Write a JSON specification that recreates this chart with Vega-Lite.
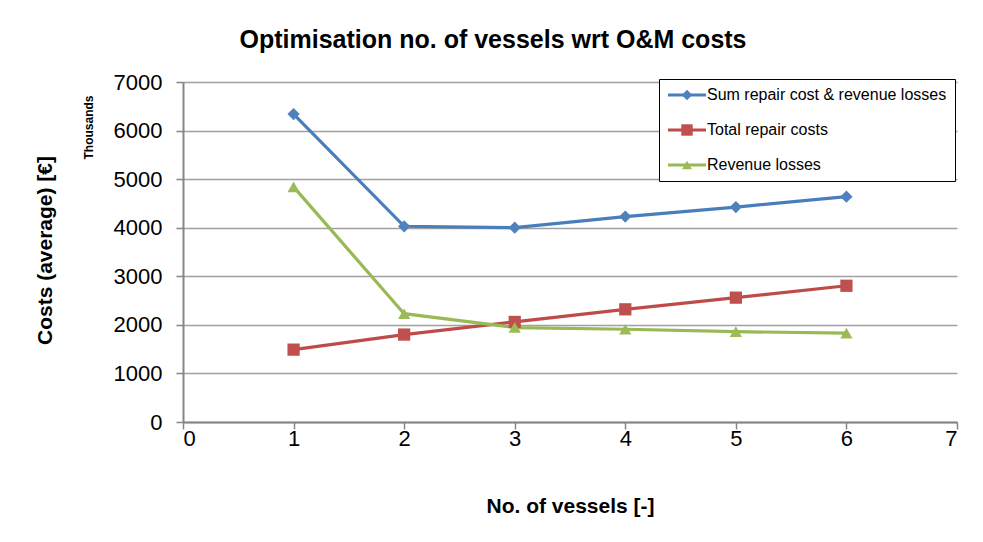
{
  "$schema": "https://vega.github.io/schema/vega-lite/v6.json",
  "width": 774,
  "height": 340,
  "autosize": {"type": "none"},
  "padding": {"left": 183, "top": 82, "right": 26, "bottom": 120},
  "background": "white",
  "config": {
    "font": "Liberation Sans",
    "view": {"stroke": null},
    "axis": {"labelFont": "Liberation Sans", "titleFont": "Liberation Sans", "labelColor": "#000000", "titleColor": "#000000"},
    "legend": {"padding": 8, "labelFontSize": 16, "labelFont": "Liberation Sans", "symbolOffset": 12, "labelOffset": 12, "rowPadding": 19, "labelLimit": 400}
  },
  "title": {
    "text": "Optimisation  no. of vessels wrt O&M costs",
    "fontSize": 25,
    "fontWeight": "bold",
    "font": "Liberation Sans",
    "color": "#000000",
    "anchor": "middle",
    "frame": "group",
    "baseline": "middle",
    "offset": 6,
    "dx": -77
  },
  "data": {
    "values": [
      {"vessels": 1, "series": "Sum repair cost & revenue losses", "cost": 6340},
      {"vessels": 2, "series": "Sum repair cost & revenue losses", "cost": 4030},
      {"vessels": 3, "series": "Sum repair cost & revenue losses", "cost": 4000},
      {"vessels": 4, "series": "Sum repair cost & revenue losses", "cost": 4230},
      {"vessels": 5, "series": "Sum repair cost & revenue losses", "cost": 4425},
      {"vessels": 6, "series": "Sum repair cost & revenue losses", "cost": 4640},
      {"vessels": 1, "series": "Total repair costs", "cost": 1490},
      {"vessels": 2, "series": "Total repair costs", "cost": 1800},
      {"vessels": 3, "series": "Total repair costs", "cost": 2060},
      {"vessels": 4, "series": "Total repair costs", "cost": 2320},
      {"vessels": 5, "series": "Total repair costs", "cost": 2560},
      {"vessels": 6, "series": "Total repair costs", "cost": 2805},
      {"vessels": 1, "series": "Revenue losses", "cost": 4840},
      {"vessels": 2, "series": "Revenue losses", "cost": 2230},
      {"vessels": 3, "series": "Revenue losses", "cost": 1945},
      {"vessels": 4, "series": "Revenue losses", "cost": 1910},
      {"vessels": 5, "series": "Revenue losses", "cost": 1860},
      {"vessels": 6, "series": "Revenue losses", "cost": 1830}
    ]
  },
  "resolve": {
    "axis": {"y": "independent"},
    "scale": {"color": "independent"},
    "legend": {"color": "independent"}
  },
  "layer": [
    {
      "mark": {"type": "line", "strokeWidth": 3.2},
      "encoding": {
        "x": {
          "field": "vessels", "type": "quantitative",
          "scale": {"domain": [0, 7], "nice": false},
          "axis": {
            "title": "No. of vessels [-]",
            "values": [0, 1, 2, 3, 4, 5, 6, 7],
            "format": "d",
            "grid": false,
            "domainColor": "#868686", "domainWidth": 2,
            "tickColor": "#868686", "tickWidth": 1.5, "tickSize": 7,
            "labelFontSize": 22, "labelPadding": -1,
            "titleFontSize": 21, "titleFontWeight": "bold",
            "titleBaseline": "middle", "titleY": 84
          }
        },
        "y": {
          "field": "cost", "type": "quantitative",
          "scale": {"domain": [0, 7000], "nice": false},
          "axis": {
            "orient": "left",
            "title": "Costs (average)  [€]",
            "values": [0, 1000, 2000, 3000, 4000, 5000, 6000, 7000],
            "format": "d",
            "grid": true, "gridColor": "#a0a0a0", "gridWidth": 1.3,
            "domainColor": "#868686", "domainWidth": 2,
            "tickColor": "#868686", "tickWidth": 1.5, "tickSize": 7,
            "labelFontSize": 22, "labelPadding": 14,
            "titleFontSize": 21, "titleFontWeight": "bold",
            "titleAngle": -90, "titleBaseline": "middle",
            "titleX": -138, "titleY": 168
          }
        },
        "color": {
          "field": "series", "type": "nominal",
          "scale": {
            "domain": ["Sum repair cost & revenue losses", "Total repair costs", "Revenue losses"],
            "range": ["#4A7EBB", "#BE4B48", "#98B954"]
          },
          "legend": {
            "title": null,
            "orient": "none",
            "legendX": 476,
            "legendY": -3,
            "strokeColor": "#000000",
            "fillColor": "#ffffff",
            "cornerRadius": 0,
            "labelColor": "#000000",
            "symbolType": "M-3.17,0H3.17",
            "symbolSize": 144,
            "symbolStrokeWidth": 3.2
          }
        }
      }
    },
    {
      "transform": [{"filter": {"field": "series", "equal": "Sum repair cost & revenue losses"}}],
      "mark": {"type": "point", "shape": "diamond", "filled": true, "opacity": 1, "size": 150},
      "encoding": {
        "x": {"field": "vessels", "type": "quantitative"},
        "y": {
          "field": "cost", "type": "quantitative",
          "axis": {
            "orient": "left",
            "title": "Thousands",
            "labels": false, "ticks": false, "domain": false, "grid": false,
            "titleFontSize": 12, "titleFontWeight": "bold",
            "titleAngle": -90, "titleBaseline": "middle",
            "titleX": -95, "titleY": 45
          }
        },
        "color": {
          "field": "series", "type": "nominal",
          "scale": {"domain": ["Sum repair cost & revenue losses"], "range": ["#4F81BD"]},
          "legend": {
            "title": null, "orient": "none", "legendX": 476, "legendY": -3,
            "labelExpr": "''", "symbolSize": 110, "symbolOpacity": 1, "symbolType": "diamond"
          }
        }
      }
    },
    {
      "transform": [{"filter": {"field": "series", "equal": "Total repair costs"}}],
      "mark": {"type": "point", "shape": "square", "filled": true, "opacity": 1, "size": 150},
      "encoding": {
        "x": {"field": "vessels", "type": "quantitative"},
        "y": {"field": "cost", "type": "quantitative", "axis": null},
        "color": {
          "field": "series", "type": "nominal",
          "scale": {"domain": ["Total repair costs"], "range": ["#C0504D"]},
          "legend": {
            "title": null, "orient": "none", "legendX": 476, "legendY": 32,
            "labelExpr": "''", "symbolSize": 130, "symbolOpacity": 1, "symbolType": "square"
          }
        }
      }
    },
    {
      "transform": [{"filter": {"field": "series", "equal": "Revenue losses"}}],
      "mark": {"type": "point", "shape": "triangle-up", "filled": true, "opacity": 1, "size": 150},
      "encoding": {
        "x": {"field": "vessels", "type": "quantitative"},
        "y": {"field": "cost", "type": "quantitative", "axis": null},
        "color": {
          "field": "series", "type": "nominal",
          "scale": {"domain": ["Revenue losses"], "range": ["#9BBB59"]},
          "legend": {
            "title": null, "orient": "none", "legendX": 476, "legendY": 67,
            "labelExpr": "''", "symbolSize": 100, "symbolOpacity": 1, "symbolType": "triangle-up"
          }
        }
      }
    }
  ]
}
